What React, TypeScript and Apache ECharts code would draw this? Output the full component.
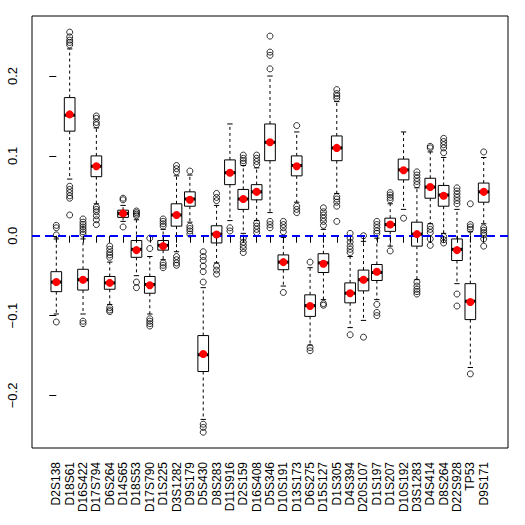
import React, { useEffect, useRef } from "react";
import * as echarts from "echarts";

const categories = [
  "D2S138", "D18S61", "D16S422", "D17S794", "D6S264", "D14S65", "D18S53", "D17S790",
  "D1S225", "D3S1282", "D9S179", "D5S430", "D8S283", "D11S916", "D2S159", "D16S408",
  "D5S346", "D10S191", "D13S173", "D6S275", "D15S127", "D1S305", "D4S394", "D20S107",
  "D1S197", "D1S207", "D10S192", "D3S1283", "D4S414", "D8S264", "D22S928", "TP53", "D9S171",
];

const lowerWhisker = [
  -0.098, 0.071, -0.098, 0.040, -0.086, 0.018, -0.050, -0.098,
  -0.030, -0.020, 0.017, -0.230, -0.034, 0.019, 0.003, 0.019,
  0.029, -0.063, 0.042, -0.137, -0.080, 0.053, -0.115, -0.106,
  -0.080, -0.013, 0.033, -0.055, 0.015, 0.003, -0.060, -0.165, 0.015,
];
const q1 = [
  -0.070, 0.131, -0.068, 0.074, -0.067, 0.023, -0.027, -0.072,
  -0.018, 0.012, 0.037, -0.170, -0.009, 0.064, 0.033, 0.045,
  0.094, -0.0425, 0.075, -0.101, -0.046, 0.094, -0.084, -0.069,
  -0.056, 0.0055, 0.070, -0.013, 0.047, 0.037, -0.031, -0.105, 0.042,
];
const median = [
  -0.058, 0.151, -0.055, 0.087, -0.059, 0.028, -0.017, -0.061,
  -0.012, 0.026, 0.046, -0.149, 0.002, 0.079, 0.046, 0.055,
  0.117, -0.033, 0.088, -0.0875, -0.034, 0.110, -0.072, -0.055,
  -0.046, 0.014, 0.0825, 0.002, 0.061, 0.051, -0.017, -0.082, 0.055,
];
const q3 = [
  -0.045, 0.173, -0.042, 0.100, -0.051, 0.032, -0.006, -0.051,
  -0.006, 0.040, 0.055, -0.125, 0.0125, 0.095, 0.058, 0.064,
  0.140, -0.024, 0.100, -0.074, -0.0225, 0.125, -0.059, -0.043,
  -0.036, 0.022, 0.096, 0.017, 0.072, 0.063, -0.004, -0.060, 0.066,
];
const upperWhisker = [
  -0.004, 0.234, -0.004, 0.135, -0.033, 0.038, 0.020, -0.026,
  0.008, 0.075, 0.076, -0.065, 0.038, 0.140, 0.088, 0.085,
  0.200, -0.002, 0.130, -0.040, 0.008, 0.168, -0.026, -0.007,
  -0.003, 0.040, 0.130, 0.060, 0.105, 0.098, 0.033, 0.005, 0.098,
];
const means = [
  -0.058, 0.152, -0.055, 0.087, -0.059, 0.028, -0.018, -0.062,
  -0.013, 0.026, 0.045, -0.148, 0.0015, 0.079, 0.046, 0.055,
  0.117, -0.033, 0.087, -0.088, -0.035, 0.110, -0.072, -0.055,
  -0.045, 0.014, 0.082, 0.002, 0.061, 0.050, -0.018, -0.083, 0.055,
];
const outliers: number[][] = [
  [0.013, 0.010, 0.001, -0.108],
  [0.255, 0.249, 0.245, 0.242, 0.239, 0.062, 0.058, 0.054, 0.050, 0.047, 0.026],
  [0.021, 0.017, 0.014, 0.011, 0.008, 0.005, 0.002, -0.107, -0.110],
  [0.150, 0.147, 0.142, 0.139, 0.036, 0.033, 0.030, 0.025, 0.020, 0.014],
  [-0.013, -0.017, -0.021, -0.024, -0.027, -0.090, -0.093, -0.095],
  [0.047, 0.045, 0.011],
  [0.031, 0.029, 0.027, 0.025, -0.058, -0.065],
  [-0.003, -0.016, -0.104, -0.107, -0.110, -0.113],
  [0.021, 0.018, 0.015, 0.012, -0.034, -0.037, -0.040],
  [0.088, 0.084, 0.080, -0.026, -0.030, -0.034, -0.037],
  [0.081, 0.012, 0.009, 0.006, 0.002],
  [-0.020, -0.026, -0.031, -0.038, -0.045, -0.058, -0.236, -0.240, -0.246],
  [0.053, 0.048, 0.044, -0.038, -0.043, -0.048],
  [0.010, 0.006],
  [0.101, 0.097, 0.094, 0.091, -0.003, -0.008, -0.012, -0.016, -0.021],
  [0.101, 0.097, 0.093, 0.089, 0.016, 0.012, 0.008, 0.004],
  [0.250, 0.230, 0.226, 0.209, 0.018, 0.014, 0.010],
  [0.018, 0.014, 0.010, 0.005, -0.071],
  [0.138, 0.037, 0.033, 0.029],
  [-0.033, -0.140, -0.144],
  [0.035, 0.030, 0.026, 0.022, 0.018, 0.013, -0.085, -0.087],
  [0.183, 0.178, 0.175, 0.172, 0.049, 0.046, 0.042, 0.037, 0.018],
  [0.003, -0.003, -0.008, -0.013, -0.017, -0.021, -0.124],
  [0.000, -0.127],
  [0.018, 0.014, 0.010, 0.006, 0.003, -0.086, -0.096, -0.100],
  [0.054, 0.051, 0.048, 0.045, -0.019],
  [0.022],
  [0.080, 0.076, 0.072, 0.068, 0.064, -0.058, -0.063, -0.067, -0.070, -0.073],
  [0.112, 0.110, 0.012, 0.008, 0.004, -0.004, -0.012],
  [0.122, 0.118, 0.114, 0.110, 0.104, -0.001, -0.005, -0.009],
  [0.060, 0.056, 0.052, 0.048, 0.044, 0.040, -0.073, -0.088],
  [0.040, 0.014, 0.011, 0.008, -0.173],
  [0.105, 0.010, 0.007, 0.004, 0.001, -0.004, -0.013],
];
const yTicks = [-0.2, -0.1, 0, 0.1, 0.2];
const referenceLine = 0;

export default function App() {
  const ref = useRef<HTMLDivElement>(null);

  useEffect(() => {
    if (!ref.current) return;
    const chart = echarts.init(ref.current, null, { renderer: "svg" });
    const n = categories.length;
    const idx = categories.map((_, i) => i);
    const boxData = categories.map((_, i) => [
      i, lowerWhisker[i], q1[i], median[i], q3[i], upperWhisker[i],
    ]);
    const outlierData: number[][] = [];
    outliers.forEach((arr, i) => arr.forEach((v) => outlierData.push([i, v])));
    const meanData = means.map((v, i) => [i, v]);

    const option: any = {
      animation: false,
      backgroundColor: "#ffffff",
      grid: {
        left: 32,
        right: 17,
        top: 16,
        bottom: 77,
        show: true,
        borderColor: "#000",
        borderWidth: 1,
        backgroundColor: "transparent",
      },
      xAxis: {
        type: "value",
        min: -0.5 - 0.04 * n,
        max: n - 0.5 + 0.04 * n,
        axisLine: { show: false },
        splitLine: { show: false },
        axisTick: {
          show: true,
          customValues: idx,
          length: 7,
          lineStyle: { color: "#000", width: 1 },
        },
        axisLabel: {
          customValues: idx,
          rotate: 90,
          margin: 14,
          fontSize: 12,
          fontFamily: "Liberation Sans",
          color: "#000",
          formatter: (v: number) => categories[Math.round(v)] ?? "",
        },
      },
      yAxis: {
        type: "value",
        min: -0.2658,
        max: 0.2752,
        axisLine: { show: false },
        splitLine: { show: false },
        axisTick: {
          show: true,
          customValues: yTicks,
          length: 7,
          lineStyle: { color: "#000", width: 1 },
        },
        axisLabel: {
          customValues: yTicks,
          rotate: 90,
          margin: 13,
          fontSize: 13,
          fontFamily: "Liberation Sans",
          color: "#000",
          formatter: (v: number) => v.toFixed(1).replace("-", "\u2212"),
        },
      },
      series: [
        {
          type: "custom",
          z: 2,
          silent: true,
          dimensions: ["x", "lw", "q1", "med", "q3", "uw"],
          encode: { x: 0, y: [1, 2, 3, 4, 5] },
          data: boxData,
          renderItem: (params: any, api: any) => {
            const x = api.value(0);
            const lw = api.coord([x, api.value(1)]);
            const b1 = api.coord([x, api.value(2)]);
            const md = api.coord([x, api.value(3)]);
            const b3 = api.coord([x, api.value(4)]);
            const uw = api.coord([x, api.value(5)]);
            const half = api.size([1, 0])[0] * 0.4;
            const cap = half * 0.5;
            const cx = lw[0];
            const dashed = { stroke: "#000", lineWidth: 1, lineDash: [3, 3] };
            const solid = { stroke: "#000", lineWidth: 1 };
            return {
              type: "group",
              children: [
                { type: "line", shape: { x1: cx, y1: b1[1], x2: cx, y2: lw[1] }, style: dashed },
                { type: "line", shape: { x1: cx, y1: b3[1], x2: cx, y2: uw[1] }, style: dashed },
                { type: "line", shape: { x1: cx - cap, y1: lw[1], x2: cx + cap, y2: lw[1] }, style: solid },
                { type: "line", shape: { x1: cx - cap, y1: uw[1], x2: cx + cap, y2: uw[1] }, style: solid },
                {
                  type: "rect",
                  shape: { x: cx - half, y: b3[1], width: 2 * half, height: b1[1] - b3[1] },
                  style: { fill: "none", stroke: "#000", lineWidth: 1 },
                },
                { type: "line", shape: { x1: cx - half, y1: md[1], x2: cx + half, y2: md[1] }, style: { stroke: "#000", lineWidth: 3 } },
              ],
            };
          },
        },
        {
          type: "scatter",
          z: 3,
          silent: true,
          symbol: "circle",
          symbolSize: 6,
          itemStyle: { color: "rgba(0,0,0,0)", borderColor: "#000", borderWidth: 1 },
          data: outlierData,
          markLine: {
            silent: true,
            symbol: ["none", "none"],
            label: { show: false },
            lineStyle: { color: "#0000ff", width: 2, type: [8, 5] },
            data: [{ yAxis: referenceLine }],
          },
        },
        {
          type: "scatter",
          z: 5,
          silent: true,
          symbol: "circle",
          symbolSize: 8,
          itemStyle: { color: "#ff0000", opacity: 1 },
          data: meanData,
        },
      ],
    };
    chart.setOption(option);
    return () => chart.dispose();
  }, []);

  return (
    <div
      ref={ref}
      style={{ position: "fixed", left: 0, top: 0, width: 525, height: 525, background: "#fff" }}
    />
  );
}
